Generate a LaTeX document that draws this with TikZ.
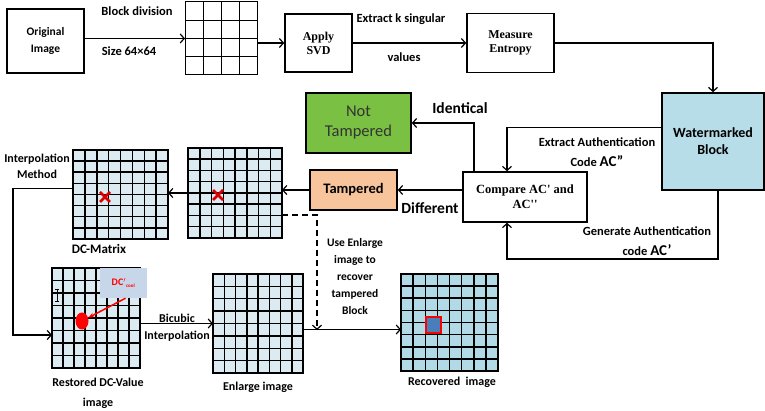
\documentclass[tikz,border=0pt]{standalone}
\usepackage{fontspec}
\setmainfont{Carlito}
\newfontfamily\tnr{Liberation Serif}
\usetikzlibrary{shapes.geometric, positioning, calc, arrows.meta}
\definecolor{cellblue}{HTML}{DCEBF2}
\definecolor{recblue}{HTML}{B2D9E6}
\definecolor{wmblue}{HTML}{B7DDE8}
\definecolor{ntgreen}{HTML}{7AC143}
\definecolor{peach}{HTML}{F8C49C}
\definecolor{dcboxblue}{HTML}{C8D6EA}
\definecolor{hlblue}{HTML}{4A7EBB}
\newcommand{\cellgrid}[3]{%
  \pgfmathtruncatemacro{\lastline}{#2-1}%
  \foreach \k in {1,...,\lastline} {%
    \draw[line width=#3] ($(#1.north west)!\k/#2!(#1.north east)$) -- ($(#1.south west)!\k/#2!(#1.south east)$);
    \draw[line width=#3] ($(#1.north west)!\k/#2!(#1.south west)$) -- ($(#1.north east)!\k/#2!(#1.south east)$);
  }}

\begin{document}
\begin{tikzpicture}[x=1pt, y=-1pt,
  box/.style={draw, line width=1.6pt, align=center, inner sep=2pt},
  cellbox/.style={draw, line width=1.6pt, fill=cellblue, inner sep=0pt, outer sep=0pt},
  lbl/.style={font=\bfseries\fontsize{12}{14}\selectfont, align=center},
  arr/.style={-{Straight Barb[length=4pt, width=9pt]}, line width=1.2pt},
  xmark/.style={red!85!black, line width=2.5pt}]
\useasboundingbox (0,0) rectangle (765,411);

% top row
\node[box, minimum width=77pt, minimum height=64pt, font=\bfseries\fontsize{11.5}{14}\selectfont] (orig) at (45.5,41) {Original\\[3pt]Image};
\node[cellbox, fill=white, line width=1pt, minimum width=72pt, minimum height=73pt] (blocks) at (221,38.5) {};
\cellgrid{blocks}{4}{1pt}
\node[box, minimum width=67pt, minimum height=58pt, font=\tnr\bfseries\fontsize{12}{14}\selectfont] (svd) at (318.5,43) {Apply\\SVD};
\node[box, minimum width=87pt, minimum height=59pt, font=\tnr\bfseries\fontsize{12}{14}\selectfont] (measure) at (510.5,43) {Measure\\Entropy};
\node[lbl, font=\bfseries\fontsize{12.5}{14}\selectfont] (division) at (137,11) {Block division};
\node[lbl, font=\bfseries\fontsize{12.5}{14}\selectfont] (size) at (129,51) {Size 64×64};
\node[lbl, font=\bfseries\fontsize{12.5}{14}\selectfont] (ksing) at (401,19) {Extract k singular};
\node[lbl, font=\bfseries\fontsize{12.5}{14}\selectfont] (values) at (404,57) {values};

\draw[arr] (orig.east |- blocks) -- (blocks.west);
\draw[arr] (blocks.east |- svd) -- (svd.west);
\draw[arr] (svd) -- (measure);

% comparison
\node[box, fill=wmblue, minimum width=102pt, minimum height=97pt, font=\bfseries\fontsize{14}{17}\selectfont] (wm) at (713,141.5) {Watermarked\\Block};
\node[box, fill=ntgreen, minimum width=105pt, minimum height=60pt, font=\fontsize{16.5}{20}\selectfont, text=black!80] (nt) at (358.5,123) {Not\\Tampered};
\node[box, fill=peach, minimum width=87pt, minimum height=40pt, font=\bfseries\fontsize{14.5}{16}\selectfont] (tamp) at (353.5,190) {Tampered};
\node[box, minimum width=124pt, minimum height=50pt, font=\tnr\bfseries\fontsize{12.5}{15}\selectfont] (cmp) at (525,197) {Compare AC' and\\AC''};
\node[lbl, font=\bfseries\fontsize{15.5}{17}\selectfont] (ident) at (460,108) {Identical};
\node[lbl, font=\bfseries\fontsize{15.5}{17}\selectfont] (diff) at (430,208) {Different};
\node[lbl, font=\bfseries\fontsize{12.5}{20}\selectfont] (extract) at (597,152) {Extract Authentication\\Code {\fontsize{15}{20}\selectfont AC''}};
\node[lbl, font=\bfseries\fontsize{12.5}{20}\selectfont] (generate) at (647,241.5) {Generate Authentication\\code {\fontsize{15}{20}\selectfont AC'}};
\coordinate (gen) at (507,259);

\draw[arr] (measure.east) -| (wm.north);
\draw[arr] ([yshift=14pt]wm.west) -| ([xshift=-18pt]cmp.north);
\draw[arr] ([xshift=5pt]wm.south) |- (gen) -- ([xshift=-18pt]cmp.south);
\draw[arr] ([xshift=-51pt]cmp.north) |- (nt.east);
\draw[arr] (cmp.west |- tamp) -- (tamp.east);

% dc matrices
\node[cellbox, minimum width=94pt, minimum height=90pt] (g2) at (235,193) {};
\cellgrid{g2}{8}{1.5pt}
\node[cellbox, minimum width=95pt, minimum height=89pt] (dcmat) at (120.5,194.5) {};
\cellgrid{dcmat}{8}{1.5pt}
\draw[xmark] (213,190) -- (223,200) (213,200) -- (223,190);
\draw[xmark] (100,192) -- (110,202) (100,202) -- (110,192);
\node[lbl, font=\bfseries\fontsize{12}{16}\selectfont] (interp) at (37,166) {Interpolation\\Method};
\node[lbl, font=\bfseries\fontsize{13}{15}\selectfont] (dclabel) at (99,249) {DC-Matrix};

\draw[arr] (tamp.west) -- (tamp.west -| g2.east);
\draw[arr] (g2.west) -- (g2.west -| dcmat.east);

% bottom row
\node[cellbox, minimum width=88pt, minimum height=100pt] (restored) at (96,318) {};
\cellgrid{restored}{8}{1.5pt}
\node[fill=dcboxblue, minimum width=47pt, minimum height=30pt, text=red, font=\bfseries\fontsize{10}{11}\selectfont] (dcval) at (123.5,283) {DC$'$\textsubscript{\fontsize{5}{5}\selectfont cool}};
\node[ellipse, fill=red, minimum width=13pt, minimum height=17pt, inner sep=0pt] (spot) at (82,321) {};
\draw[red, line width=1.5pt, -{Stealth[length=6pt]}] ([xshift=2pt]dcval.south) -- (spot);
\draw[line width=0.8pt] (57,289) -- (57,301) (55,289) -- (59,289) (55,301) -- (59,301);
\node[cellbox, minimum width=90pt, minimum height=99pt] (enl) at (258,323.5) {};
\cellgrid{enl}{8}{1.5pt}
\node[cellbox, fill=recblue, minimum width=97pt, minimum height=97pt] (recov) at (449.5,322.5) {};
\cellgrid{recov}{8}{1.5pt}
\draw[red, line width=2pt, fill=hlblue] (425.5,317.5) rectangle (440.5,332.5);

\node[lbl, font=\bfseries\fontsize{12}{20}\selectfont] (restlabel) at (98,393) {Restored DC-Value\\image};
\node[lbl] (enllabel) at (258,387) {Enlarge image};
\node[lbl] (reclabel) at (452,382) {Recovered\ \ image};
\node[lbl, font=\bfseries\fontsize{12}{17}\selectfont] (bicubic) at (177,328) {Bicubic\\Interpolation};
\node[lbl, font=\bfseries\fontsize{11.5}{17}\selectfont] (useenl) at (355,277) {Use Enlarge\\image to\\recover\\tampered\\Block};
\coordinate (join) at (317,330);
\coordinate (turn) at (13,335);

\draw[arr] ([yshift=6pt]dcmat.west) -| (turn) -- (turn -| restored.west);
\draw[arr] (restored.east |- enl) -- (enl.west);
\draw[arr] ([yshift=-6pt]enl.east) -- ([yshift=-6pt]enl.east -| recov.west);
\draw[arr, dash pattern=on 6pt off 4pt] ([yshift=-22pt]g2.east) -| (join);

\end{tikzpicture}
\end{document}
